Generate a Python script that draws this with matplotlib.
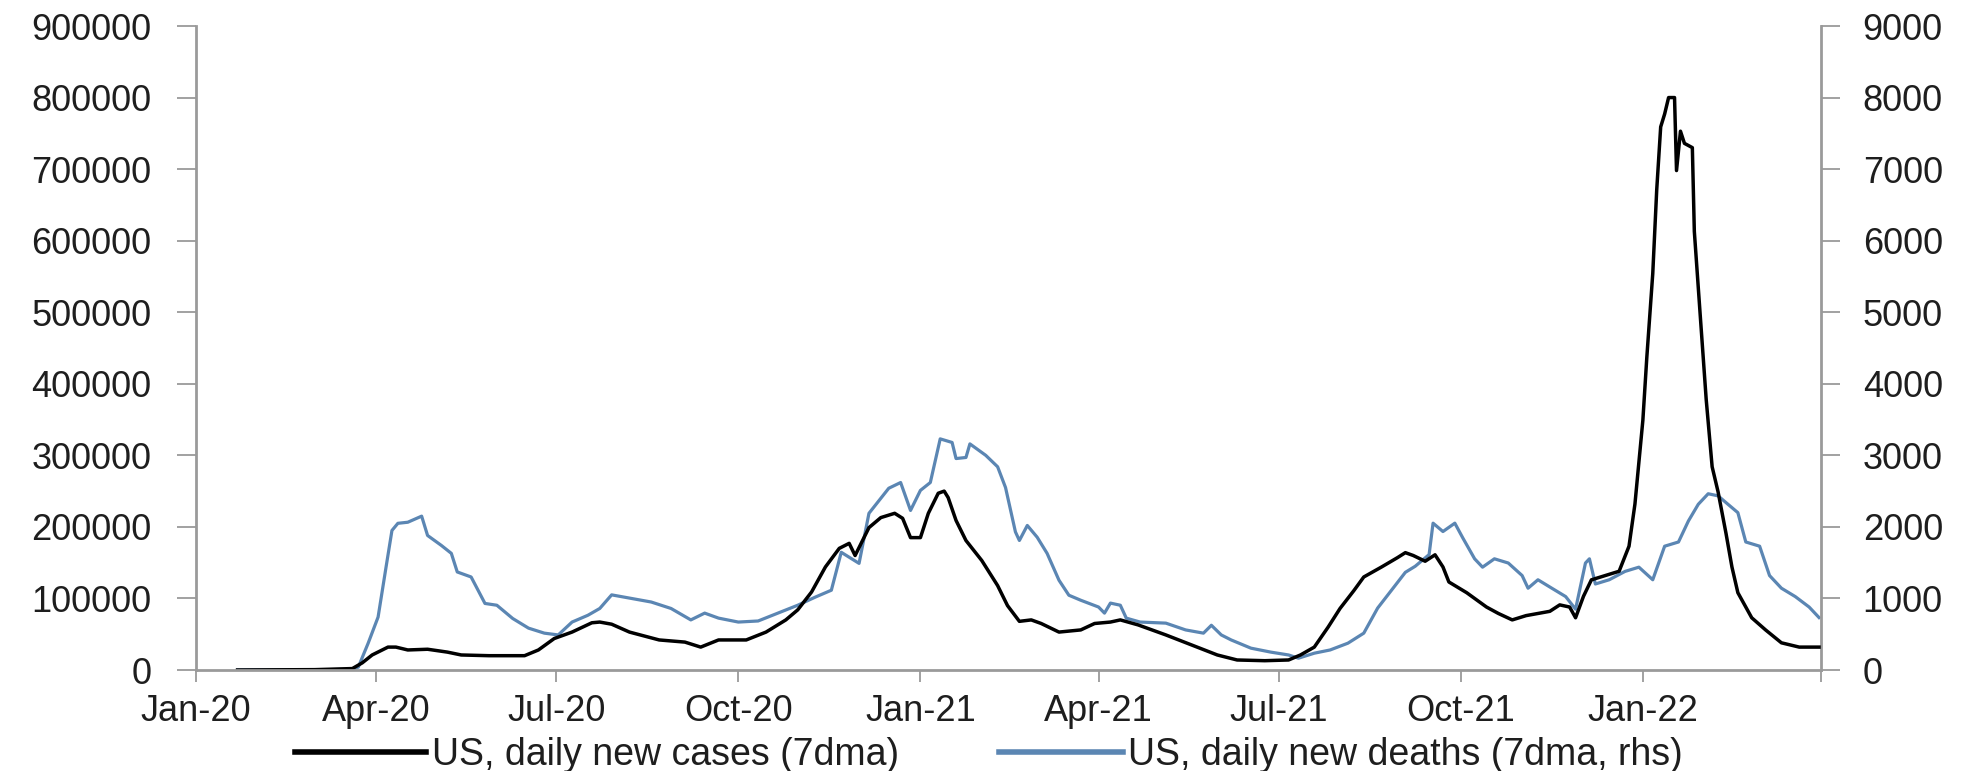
import pandas as pd
import matplotlib
matplotlib.use("Agg")
import matplotlib.pyplot as plt
from matplotlib.ticker import StrMethodFormatter

plt.rcParams["font.family"] = ["Liberation Sans", "DejaVu Sans"]

# days counted from 1 Jan 2020
start = pd.Timestamp("2020-01-01")

case_days = [21, 60, 79, 84, 89, 97, 101, 107, 117, 127,
             134, 148, 166, 173, 181, 190, 200, 204, 210, 219,
             234, 247, 255, 264, 278, 288, 298, 304, 311, 318,
             325, 330, 333, 340, 346, 353, 357, 361, 366, 370,
             375, 378, 380, 384, 389, 397, 405, 410, 416, 422,
             427, 436, 447, 454, 462, 467, 476, 490, 503, 516,
             526, 540, 552, 558, 565, 572, 578, 585, 590, 599,
             607, 611, 615, 621, 626, 630, 633, 642, 652, 658,
             665, 672, 684, 689, 694, 697, 701, 705, 712, 719,
             724, 727, 731, 733, 736, 738, 740, 742, 744, 747,
             748, 750, 752, 756, 757, 760, 763, 766, 769, 773,
             776, 779, 786, 793, 801, 810, 820]
# thousands of cases
cases_k = [0, 0.5, 2, 10, 21, 32, 32, 28, 29, 25,
           21, 20, 20, 28, 44, 53, 66, 67, 64, 53,
           42, 39, 32, 42, 42, 53, 70, 84, 109, 144,
           170, 177, 160, 199, 213, 219, 212, 185, 185, 219,
           247, 250, 241, 209, 181, 153, 118, 90, 68, 70,
           65, 53, 56, 65, 67, 70, 63, 49, 35, 21,
           14, 13, 14, 21, 32, 60, 86, 111, 130, 144,
           157, 164, 160, 152, 161, 144, 123, 108, 88, 79,
           70, 76, 82, 91, 88, 73, 103, 126, 132, 138,
           173, 232, 349, 437, 554, 671, 759, 777, 800, 800,
           698, 753, 736, 730, 613, 495, 378, 284, 249, 191,
           144, 108, 73, 56, 38, 32, 32]

death_days = [21, 60, 79, 82, 87, 92, 96, 99, 102, 107,
              114, 117, 124, 129, 132, 139, 146, 152, 160, 168,
              176, 183, 190, 198, 204, 210, 220, 230, 240, 250,
              257, 264, 274, 284, 294, 304, 313, 321, 326, 335,
              340, 350, 356, 361, 366, 371, 376, 382, 384, 389,
              391, 399, 405, 409, 414, 416, 420, 425, 430, 436,
              441, 447, 456, 459, 462, 467, 470, 477, 490, 500,
              509, 513, 518, 523, 533, 543, 552, 557, 565, 573,
              582, 590, 597, 604, 611, 616, 623, 625, 630, 636,
              640, 646, 650, 656, 663, 670, 673, 678, 685, 692,
              697, 702, 704, 707, 714, 722, 729, 736, 742, 749,
              754, 759, 764, 769, 774, 779, 783, 790, 795, 801,
              808, 815, 820]
deaths = [0, 2, 10, 40, 376, 740, 1435, 1950, 2050, 2065,
          2150, 1880, 1740, 1630, 1370, 1300, 930, 905, 720, 585,
          515, 490, 670, 765, 860, 1050, 1000, 950, 860, 700,
          795, 725, 670, 685, 795, 905, 1020, 1115, 1645, 1490,
          2190, 2540, 2620, 2230, 2510, 2620, 3230, 3180, 2955, 2970,
          3160, 3000, 2840, 2550, 1930, 1810, 2020, 1855, 1630, 1255,
          1045, 975, 880, 795, 935, 905, 725, 670, 655, 560,
          515, 625, 490, 420, 305, 250, 210, 165, 235, 280,
          375, 515, 865, 1115, 1365, 1450, 1613, 2052, 1935, 2052,
          1847, 1554, 1437, 1554, 1495, 1320, 1143, 1261, 1143, 1026,
          850, 1495, 1554, 1202, 1261, 1378, 1437, 1261, 1730, 1789,
          2082, 2316, 2463, 2434, 2316, 2199, 1789, 1730, 1320, 1143,
          1026, 880, 733]

tick_labels = ["Jan-20", "Apr-20", "Jul-20", "Oct-20", "Jan-21",
               "Apr-21", "Jul-21", "Oct-21", "Jan-22", ""]

case_dates = start + pd.to_timedelta(case_days, unit="D")
death_dates = start + pd.to_timedelta(death_days, unit="D")
cases = [c * 1000 for c in cases_k]
tick_dates = pd.date_range("2020-01-01", "2022-04-01", freq="QS")

grey = "#9a9a9a"
txt = "#1e1e1e"
blue = "#5b86b3"

fig = plt.figure(figsize=(19.7, 7.71), dpi=100)
ax = fig.add_axes([196 / 1970, 1 - 670 / 771, (1821 - 196) / 1970, (670 - 26) / 771])
ax2 = ax.twinx()
ax.set_zorder(ax2.get_zorder() + 1)
ax.patch.set_visible(False)

ax2.plot(death_dates, deaths, color=blue, lw=2.3)
ax.plot(case_dates, cases, color="black", lw=2.5)

ax.set_xlim(start, pd.Timestamp("2022-04-01"))
ax.set_ylim(0, 900000)
ax2.set_ylim(0, 9000)
ax.set_yticks(range(0, 900001, 100000))
ax2.set_yticks(range(0, 9001, 1000))
ax.yaxis.set_major_formatter(StrMethodFormatter("{x:.0f}"))
ax2.yaxis.set_major_formatter(StrMethodFormatter("{x:.0f}"))
ax.set_xticks(tick_dates)
ax.set_xticklabels(tick_labels)

for a in (ax, ax2):
    for s in a.spines.values():
        s.set_color(grey)
        s.set_linewidth(2)
    a.spines["top"].set_visible(False)
ax.spines["right"].set_visible(False)
ax2.spines["left"].set_visible(False)
ax2.spines["bottom"].set_visible(False)

ax.tick_params(axis="y", length=14, width=1.3, color=grey, pad=18,
               labelsize=26, labelcolor=txt)
ax2.tick_params(axis="y", length=14, width=1.3, color=grey, pad=16,
                labelsize=26, labelcolor=txt)
ax.tick_params(axis="x", length=8.5, width=1.3, color=grey, pad=9,
               labelsize=26, labelcolor=txt)

h1, = ax.plot([], [], color="black", lw=4)
h2, = ax.plot([], [], color=blue, lw=4)
fig.legend([h1], ["US, daily new cases (7dma)"], loc="center left",
           bbox_to_anchor=(295 / 1970, 1 - 755 / 771), frameon=False,
           fontsize=27, handlelength=3.5, handletextpad=0.15,
           borderpad=0, borderaxespad=0, labelcolor=txt)
fig.legend([h2], ["US, daily new deaths (7dma, rhs)"], loc="center left",
           bbox_to_anchor=(999 / 1970, 1 - 755 / 771), frameon=False,
           fontsize=27, handlelength=3.3, handletextpad=0.15,
           borderpad=0, borderaxespad=0, labelcolor=txt)

fig.savefig("out.png", dpi=100)
